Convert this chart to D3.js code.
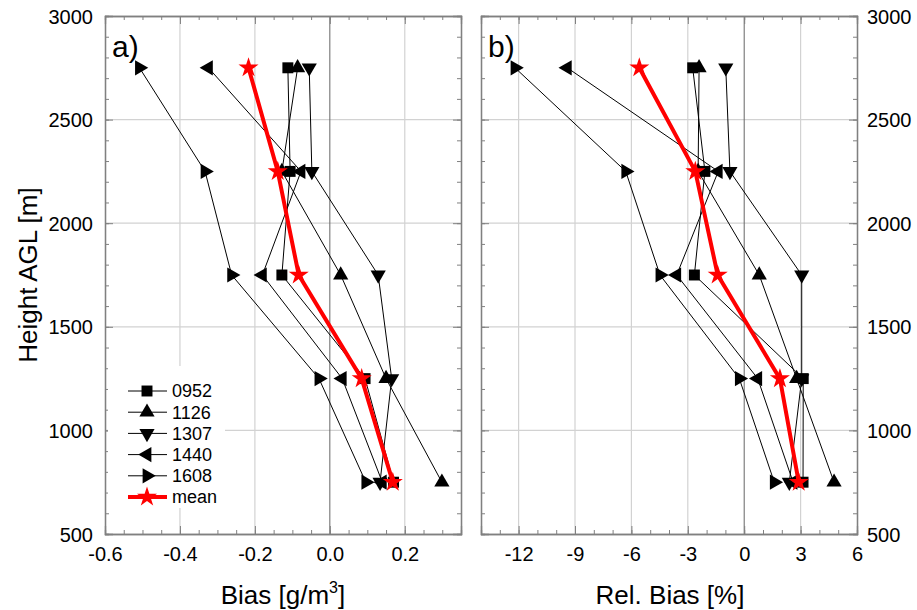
<html>
<head>
    <meta charset="utf-8">
    <title>Bias profiles</title>
    <style>
        body { margin: 0; background: white; }
        text { font-family: "Liberation Sans", Arial, sans-serif; fill: black; }
    </style>
    <script src="https://cdn.jsdelivr.net/npm/d3@7"></script>
</head>
<body>
<div id="chart"></div>
<script>
    // heights of the layers [m]
    var heights = [750, 1250, 1750, 2250, 2750];
    var seriesNames = ['0952', '1126', '1307', '1440', '1608'];

    // absolute bias [g/m3], one value per height
    var bias0952 = [0.17, 0.094, -0.128, -0.106, -0.112];
    var bias1126 = [0.299, 0.150, 0.029, -0.128, -0.086];
    var bias1307 = [0.134, 0.165, 0.129, -0.048, -0.055];
    var bias1440 = [0.14, 0.033, -0.180, -0.077, -0.324];
    var bias1608 = [0.096, -0.029, -0.262, -0.333, -0.508];
    var biasMean = [0.168, 0.085, -0.083, -0.139, -0.217];

    // relative bias [%]
    var rel0952 = [3.13, 3.14, -2.65, -2.09, -2.74];
    var rel1126 = [4.78, 2.79, 0.80, -2.45, -2.40];
    var rel1307 = [2.4, 3.06, 3.06, -0.76, -0.98];
    var rel1440 = [2.6, 0.72, -3.59, -1.38, -9.41];
    var rel1608 = [1.6, -0.26, -4.48, -6.30, -12.19];
    var relMean = [2.9, 1.9, -1.41, -2.6, -5.58];

    var biasTicks = [-0.6, -0.4, -0.2, 0.0, 0.2];
    var relTicks = [-12, -9, -6, -3, 0, 3, 6];
    var heightTicks = [500, 1000, 1500, 2000, 2500, 3000];

    var markerTypes = ['square', 'up', 'down', 'left', 'right'];

    var svg = d3.select('#chart')
            .append('svg')
            .attr('width', 917)
            .attr('height', 610);

    var plotTop = 16, plotBottom = 534;

    var y = d3.scaleLinear().domain([500, 3000]).range([plotBottom, plotTop]);

    // plain hyphen for negatives, like the original
    function fmt(spec) {
        var f = d3.format(spec);
        return function(d) { return f(d).replace('\u2212', '-'); };
    }

    function marker(type) {
        if (type === 'square') return { path: d3.symbol(d3.symbolSquare, 120)(), rot: 0 };
        if (type === 'star') return { path: d3.symbol(d3.symbolStar, 125)(), rot: 0 };
        var rot = { up: 0, down: 180, left: -90, right: 90 }[type];
        return { path: d3.symbol(d3.symbolTriangle, 100)(), rot: rot };
    }

    function panel(opts) {
        var x = d3.scaleLinear().domain(opts.domain).range([opts.left, opts.right]);
        var g = svg.append('g');

        // grid
        g.selectAll(null)
                .data(opts.ticks.filter(function(d) { return d !== 0 && x(d) > opts.left + 1 && x(d) < opts.right - 1; }))
            .enter().append('line')
                .attr('x1', function(d) { return x(d); })
                .attr('x2', function(d) { return x(d); })
                .attr('y1', plotTop).attr('y2', plotBottom)
                .attr('stroke', '#d2d2d2').attr('stroke-width', 1.2);
        g.selectAll(null)
                .data([1000, 1500, 2000, 2500])
            .enter().append('line')
                .attr('x1', opts.left).attr('x2', opts.right)
                .attr('y1', function(d) { return y(d); })
                .attr('y2', function(d) { return y(d); })
                .attr('stroke', '#d2d2d2').attr('stroke-width', 1.2);
        g.append('line')
                .attr('x1', x(0)).attr('x2', x(0))
                .attr('y1', plotTop).attr('y2', plotBottom)
                .attr('stroke', '#666').attr('stroke-width', 1);

        // axes, ticks inside
        var minorX = d3.range(opts.domain[0], opts.domain[1] + 1e-9, opts.minor);
        var minorY = d3.range(500, 3001, 100);

        g.append('g').attr('transform', 'translate(0,' + plotBottom + ')')
                .call(d3.axisBottom(x).tickValues(minorX).tickSize(-4).tickFormat(''));
        g.append('g').attr('transform', 'translate(0,' + plotTop + ')')
                .call(d3.axisTop(x).tickValues(minorX).tickSize(-4).tickFormat(''));
        g.append('g').attr('transform', 'translate(0,' + plotBottom + ')')
                .call(d3.axisBottom(x).tickValues(opts.ticks).tickSize(-8).tickPadding(13)
                    .tickFormat(opts.format));
        g.append('g').attr('transform', 'translate(0,' + plotTop + ')')
                .call(d3.axisTop(x).tickValues(opts.ticks).tickSize(-8).tickFormat(''));

        g.append('g').attr('transform', 'translate(' + opts.left + ',0)')
                .call(d3.axisLeft(y).tickValues(minorY).tickSize(-4).tickFormat(''));
        g.append('g').attr('transform', 'translate(' + opts.right + ',0)')
                .call(d3.axisRight(y).tickValues(minorY).tickSize(-4).tickFormat(''));
        var yl = g.append('g').attr('transform', 'translate(' + opts.left + ',0)')
                .call(d3.axisLeft(y).tickValues(heightTicks).tickSize(-8).tickPadding(12)
                    .tickFormat(opts.leftLabels ? d3.format('d') : ''));
        var yr = g.append('g').attr('transform', 'translate(' + opts.right + ',0)')
                .call(d3.axisRight(y).tickValues(heightTicks).tickSize(-8).tickPadding(10)
                    .tickFormat(opts.rightLabels ? d3.format('d') : ''));

        g.selectAll('.domain').attr('stroke', '#808080').attr('stroke-width', 1.3);
        g.selectAll('.tick line').attr('stroke', '#808080');
        g.selectAll('.tick text').attr('font-size', 20).attr('fill', 'black')
                .attr('font-family', '"Liberation Sans", Arial, sans-serif');
        yl.selectAll('.tick text').attr('dy', '0.35em');
        yr.selectAll('.tick text').attr('dy', '0.35em');

        var line = d3.line()
                .x(function(d) { return x(d[0]); })
                .y(function(d) { return y(d[1]); });

        // individual profiles
        opts.series.forEach(function(vals, i) {
            var pts = vals.map(function(v, j) { return [v, heights[j]]; });
            g.append('path')
                    .attr('d', line(pts))
                    .attr('fill', 'none')
                    .attr('stroke', 'black')
                    .attr('stroke-width', 1);
            var m = marker(markerTypes[i]);
            g.selectAll(null)
                    .data(pts)
                .enter().append('path')
                    .attr('d', m.path)
                    .attr('transform', function(d) {
                        return 'translate(' + x(d[0]) + ',' + y(d[1]) + ') rotate(' + m.rot + ')';
                    })
                    .attr('fill', 'black');
        });

        // mean profile
        var meanPts = opts.mean.map(function(v, j) { return [v, heights[j]]; });
        g.append('path')
                .attr('d', line(meanPts))
                .attr('fill', 'none')
                .attr('stroke', 'red')
                .attr('stroke-width', 4);
        var star = marker('star');
        g.selectAll(null)
                .data(meanPts)
            .enter().append('path')
                .attr('d', star.path)
                .attr('transform', function(d) { return 'translate(' + x(d[0]) + ',' + y(d[1]) + ')'; })
                .attr('fill', 'red');

        g.append('text')
                .attr('x', opts.left + 7)
                .attr('y', 57)
                .attr('font-size', 30)
                .text(opts.tag);

        return g;
    }

    var pa = panel({
        left: 105, right: 461, domain: [-0.6, 0.35], minor: 0.05,
        ticks: biasTicks, format: fmt('.1f'),
        series: [bias0952, bias1126, bias1307, bias1440, bias1608], mean: biasMean,
        leftLabels: true, rightLabels: false, tag: 'a)'
    });

    panel({
        left: 481, right: 857, domain: [-14, 6], minor: 1,
        ticks: relTicks, format: fmt('d'),
        series: [rel0952, rel1126, rel1307, rel1440, rel1608], mean: relMean,
        leftLabels: false, rightLabels: true, tag: 'b)'
    });

    // legend
    var lg = pa.append('g');
    lg.append('rect')
            .attr('x', 108).attr('y', 366)
            .attr('width', 117).attr('height', 142)
            .attr('fill', 'white');
    var legendItems = seriesNames.map(function(n, i) { return { name: n, type: markerTypes[i] }; })
            .concat([{ name: 'mean', type: 'star' }]);
    legendItems.forEach(function(d, i) {
        var ly = 391 + i * 21.2;
        var isMean = d.type === 'star';
        lg.append('line')
                .attr('x1', 128).attr('x2', 167)
                .attr('y1', ly).attr('y2', ly)
                .attr('stroke', isMean ? 'red' : 'black')
                .attr('stroke-width', isMean ? 4 : 1);
        var m = marker(d.type);
        lg.append('path')
                .attr('d', m.path)
                .attr('transform', 'translate(147,' + ly + ') rotate(' + m.rot + ')')
                .attr('fill', isMean ? 'red' : 'black');
        lg.append('text')
                .attr('x', 172).attr('y', ly)
                .attr('dy', '0.35em')
                .attr('font-size', 18)
                .text(d.name);
    });

    // axis titles
    svg.append('text')
            .attr('transform', 'translate(37,275) rotate(-90)')
            .attr('text-anchor', 'middle')
            .attr('font-size', 26)
            .text('Height AGL [m]');

    var bt = svg.append('text')
            .attr('x', 283).attr('y', 604)
            .attr('text-anchor', 'middle')
            .attr('font-size', 26);
    bt.append('tspan').text('Bias [g/m');
    bt.append('tspan').attr('font-size', 16).attr('dy', -11).text('3');
    bt.append('tspan').attr('dy', 11).text(']');

    svg.append('text')
            .attr('x', 670).attr('y', 604)
            .attr('text-anchor', 'middle')
            .attr('font-size', 26)
            .text('Rel. Bias [%]');
</script>
</body>
</html>
